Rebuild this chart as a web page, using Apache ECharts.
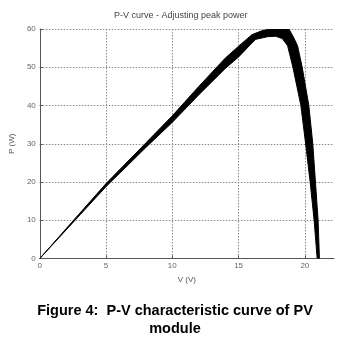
<!DOCTYPE html>
<html>
<head>
<meta charset="utf-8">
<script src="https://cdn.jsdelivr.net/npm/echarts@6/dist/echarts.min.js"></script>
<style>
html,body{margin:0;padding:0;background:#fff;}
#c{width:340px;height:342px;}
</style>
</head>
<body>
<div id="c"></div>
<script>
// Tick values
const xTicks = [0, 5, 10, 15, 20];
const yTicks = [0, 10, 20, 30, 40, 50, 60];
// Outer edge of the overlaid P-V curve band (origin -> over the top -> down right side)
const outerV = [0, 2.5, 5, 8, 10, 12, 14, 15, 16, 16.8, 17.44, 18.8, 19.15, 19.45, 19.8, 20.05, 20.3, 20.6, 20.8, 21.0, 21.1];
const outerP = [0, 9.8, 19.6, 30.2, 37.3, 45, 52.4, 55.5, 58.5, 59.6, 60, 60, 57.8, 55.6, 50, 45, 40, 30, 20, 10, 0];
// Inner edge of the band (bottom of right side -> notch -> back down to origin)
const innerV = [20.93, 20.7, 20.4, 20.06, 19.7, 19.4, 19.1, 18.7, 18.3, 17.8, 17.2, 16.3, 16, 15, 14, 12, 10, 8, 5, 2.5, 0];
const innerP = [0, 10, 20, 30, 40, 45, 50, 55.6, 57.5, 58.1, 58.0, 57.3, 56.3, 52.7, 49.7, 42.8, 35.6, 29, 18.8, 9.4, 0];

const band = outerV.map((v, i) => [v, outerP[i]]).concat(innerV.map((v, i) => [v, innerP[i]]));

const chart = echarts.init(document.getElementById('c'), null, {renderer: 'canvas'});
const axisColor = '#555';
const gridColor = '#8a8a8a';
chart.setOption({
  animation: false,
  backgroundColor: '#fff',
  textStyle: {fontFamily: 'Liberation Sans, Arial, sans-serif'},
  grid: {left: 37, top: 29, right: 6, bottom: 83.5, containLabel: false},
  xAxis: {
    type: 'value', min: 0, max: 22.2, interval: 5,
    name: 'V (V)', nameLocation: 'middle', nameGap: 17,
    nameTextStyle: {fontSize: 8, color: '#555'},
    axisLine: {show: true, onZero: false, lineStyle: {color: axisColor, width: 1}},
    axisTick: {show: true, inside: true, length: 3, lineStyle: {color: axisColor}},
    axisLabel: {fontSize: 8, color: '#666', margin: 3, showMaxLabel: false,
      formatter: v => (xTicks.indexOf(v) >= 0 ? String(v) : '')},
    splitLine: {show: true, showMaxLine: false, lineStyle: {color: gridColor, type: [1.5, 1.5], width: 1}}
  },
  yAxis: {
    type: 'value', min: 0, max: 60, interval: 10,
    name: 'P (W)', nameLocation: 'middle', nameGap: 11, nameRotate: 90,
    nameTextStyle: {fontSize: 8, color: '#555'},
    axisLine: {show: true, onZero: false, lineStyle: {color: axisColor, width: 1}},
    axisTick: {show: true, inside: true, length: 3, lineStyle: {color: axisColor}},
    axisLabel: {fontSize: 8, color: '#666', margin: 4,
      formatter: v => (yTicks.indexOf(v) >= 0 ? String(v) : '')},
    splitLine: {show: true, lineStyle: {color: gridColor, type: [1.5, 1.5], width: 1}}
  },
  series: [{
    type: 'custom',
    clip: true,
    data: [0],
    renderItem: function (params, api) {
      const pts = band.map(p => api.coord(p));
      return {
        type: 'polygon',
        shape: {points: pts},
        style: {fill: '#000', stroke: '#000', lineWidth: 1, lineJoin: 'round'}
      };
    },
    z: 5
  }],
  graphic: [
    {type: 'text', left: 184 - 70, top: 11, style: {text: 'P-V curve - Adjusting peak power', fontSize: 9, fill: '#444', fontFamily: 'Liberation Sans, Arial, sans-serif', width: 140, align: 'center'}},
    {type: 'text', x: 175, y: 311, style: {text: 'Figure 4:  P-V characteristic curve of PV', fontSize: 14.5, fontWeight: 'bold', fill: '#000', fontFamily: 'Liberation Sans, Arial, sans-serif', align: 'center', verticalAlign: 'middle'}},
    {type: 'text', x: 175, y: 329, style: {text: 'module', fontSize: 14.5, fontWeight: 'bold', fill: '#000', fontFamily: 'Liberation Sans, Arial, sans-serif', align: 'center', verticalAlign: 'middle'}}
  ]
});
</script>
</body>
</html>
